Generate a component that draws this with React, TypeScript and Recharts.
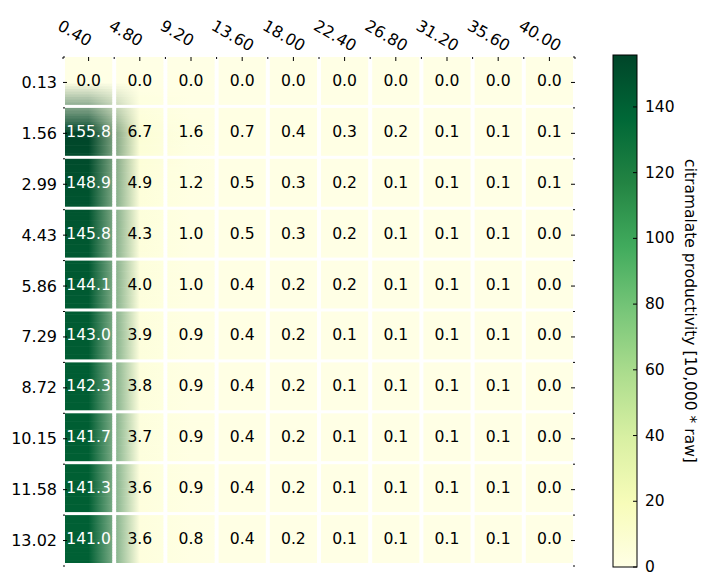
import { ScatterChart, Scatter, XAxis, YAxis, BarChart, Bar } from 'recharts'

const colLabels = ['0.40', '4.80', '9.20', '13.60', '18.00', '22.40', '26.80', '31.20', '35.60', '40.00']
const rowLabels = ['0.13', '1.56', '2.99', '4.43', '5.86', '7.29', '8.72', '10.15', '11.58', '13.02']

const row013 = [0.0, 0.0, 0.0, 0.0, 0.0, 0.0, 0.0, 0.0, 0.0, 0.0]
const row156 = [155.8, 6.7, 1.6, 0.7, 0.4, 0.3, 0.2, 0.1, 0.1, 0.1]
const row299 = [148.9, 4.9, 1.2, 0.5, 0.3, 0.2, 0.1, 0.1, 0.1, 0.1]
const row443 = [145.8, 4.3, 1.0, 0.5, 0.3, 0.2, 0.1, 0.1, 0.1, 0.0]
const row586 = [144.1, 4.0, 1.0, 0.4, 0.2, 0.2, 0.1, 0.1, 0.1, 0.0]
const row729 = [143.0, 3.9, 0.9, 0.4, 0.2, 0.1, 0.1, 0.1, 0.1, 0.0]
const row872 = [142.3, 3.8, 0.9, 0.4, 0.2, 0.1, 0.1, 0.1, 0.1, 0.0]
const row1015 = [141.7, 3.7, 0.9, 0.4, 0.2, 0.1, 0.1, 0.1, 0.1, 0.0]
const row1158 = [141.3, 3.6, 0.9, 0.4, 0.2, 0.1, 0.1, 0.1, 0.1, 0.0]
const row1302 = [141.0, 3.6, 0.8, 0.4, 0.2, 0.1, 0.1, 0.1, 0.1, 0.0]
const grid = [row013, row156, row299, row443, row586, row729, row872, row1015, row1158, row1302]

const vmax = 155.8
const cbTicks = [0, 20, 40, 60, 80, 100, 120, 140]
const cbLabel = 'citramalate productivity [10,000 * raw]'

// matplotlib YlGn
const YLGN = [
  [255, 255, 229], [247, 252, 185], [217, 240, 163], [173, 221, 142], [120, 198, 121],
  [65, 171, 93], [35, 132, 67], [0, 104, 55], [0, 69, 41],
]
const FONT = 'DejaVu Sans, sans-serif'

// plot box of the heatmap
const PL = 63, PT = 57, PW = 512, PH = 509
const CW = PW / 10, CH = PH / 10

const lerp = (a: number[], b: number[], t: number) => a.map((x, i) => x + (b[i] - x) * t)
const rgb = (c: number[]) => `rgb(${c.map(x => Math.round(x)).join(',')})`

function cmap(v: number) {
  const t = Math.max(0, Math.min(1, v / vmax)) * 8
  const i = Math.min(7, Math.floor(t))
  return lerp(YLGN[i], YLGN[i + 1], t - i)
}
const cellColors = grid.map(r => r.map(cmap))

// bilinear in rgb between cell centres (old imshow look)
function colorAt(gx: number, gy: number) {
  const x = Math.max(0, Math.min(9, gx)), y = Math.max(0, Math.min(9, gy))
  const i0 = Math.floor(x), j0 = Math.floor(y)
  const i1 = Math.min(9, i0 + 1), j1 = Math.min(9, j0 + 1)
  const tx = x - i0, ty = y - j0
  const top = lerp(cellColors[j0][i0], cellColors[j0][i1], tx)
  const bot = lerp(cellColors[j1][i0], cellColors[j1][i1], tx)
  return lerp(top, bot, ty)
}

const data = grid.flatMap((r, row) => r.map((v, col) => ({ row, col, v })))

function HeatCell(props: any) {
  const { cx, cy, payload } = props
  const { row, col, v } = payload
  const x0 = cx - CW / 2 + 2, x1 = cx + CW / 2 - 2
  const y0 = cy - CH / 2, y1 = cy + CH / 2 - 3
  const gx = (x: number) => col + (x - cx) / CW
  const gy = (y: number) => row + (y - cy) / CH
  const center = cellColors[row][col]
  let diff = 0
  for (const xx of [x0, cx, x1]) for (const yy of [y0, cy, y1]) {
    const c = colorAt(gx(xx), gy(yy))
    c.forEach((ch, k) => { diff = Math.max(diff, Math.abs(ch - center[k])) })
  }
  const txt = v.toFixed(1)
  const tc = v > vmax / 2 ? '#fff' : '#000'
  const label = (
    <text x={cx} y={(y0 + y1) / 2} textAnchor="middle" dominantBaseline="central"
      fontFamily={FONT} fontSize={15.6} fill={tc}>{txt}</text>
  )
  if (diff < 2) {
    return <g><rect x={x0} y={y0} width={x1 - x0} height={y1 - y0} fill={rgb(center)} />{label}</g>
  }
  const N = 18
  const sh = (y1 - y0) / N
  const off = (cx - x0) / (x1 - x0)
  const strips = []
  for (let k = 0; k < N; k++) {
    const sy = y0 + k * sh
    const yy = gy(sy + sh / 2)
    const id = `g-${row}-${col}-${k}`
    strips.push(
      <g key={k}>
        <defs>
          <linearGradient id={id} x1="0" y1="0" x2="1" y2="0">
            <stop offset={0} stopColor={rgb(colorAt(gx(x0), yy))} />
            <stop offset={off} stopColor={rgb(colorAt(gx(cx), yy))} />
            <stop offset={1} stopColor={rgb(colorAt(gx(x1), yy))} />
          </linearGradient>
        </defs>
        <rect x={x0} y={sy} width={x1 - x0} height={k === N - 1 ? sh : sh + 0.6} fill={`url(#${id})`} />
      </g>
    )
  }
  return <g>{strips}{label}</g>
}

function TopTick(props: any) {
  const { x, index, payload } = props
  const lx = x - 32, ly = 29
  return (
    <g>
      <line x1={x} x2={x} y1={PT} y2={PT + 4} stroke="#000" />
      <line x1={x - CW / 2} x2={x - CW / 2} y1={PT} y2={PT + 2} stroke="#000" />
      {index === 9 && <line x1={x + CW / 2} x2={x + CW / 2} y1={PT} y2={PT + 2} stroke="#000" />}
      <text x={lx} y={ly} transform={`rotate(30, ${lx}, ${ly})`} textAnchor="start"
        fontFamily={FONT} fontSize={16} fill="#000">{colLabels[payload.value]}</text>
    </g>
  )
}

function LeftTick(props: any) {
  const { y, index, payload } = props
  const R = PL + PW
  return (
    <g>
      <line x1={PL} x2={PL + 4} y1={y} y2={y} stroke="#000" />
      <line x1={R - 4} x2={R} y1={y} y2={y} stroke="#000" />
      <line x1={PL} x2={PL + 2} y1={y - CH / 2} y2={y - CH / 2} stroke="#000" />
      <line x1={R - 2} x2={R} y1={y - CH / 2} y2={y - CH / 2} stroke="#000" />
      {index === 9 && <line x1={PL} x2={PL + 2} y1={y + CH / 2} y2={y + CH / 2} stroke="#000" />}
      {index === 9 && <line x1={R - 2} x2={R} y1={y + CH / 2} y2={y + CH / 2} stroke="#000" />}
      <text x={57} y={y} textAnchor="end" dominantBaseline="central"
        fontFamily={FONT} fontSize={16} fill="#000">{rowLabels[payload.value]}</text>
    </g>
  )
}

function CbTick(props: any) {
  const { y, payload } = props
  return (
    <g>
      <line x1={33} x2={37} y1={y} y2={y} stroke="#000" />
      <text x={45} y={y} dominantBaseline="central" fontFamily={FONT} fontSize={15.5} fill="#000">{payload.value}</text>
    </g>
  )
}

function CbBar(props: any) {
  const { x, y, width, height } = props
  return (
    <g>
      <defs>
        <linearGradient id="cbGrad" x1="0" y1="1" x2="0" y2="0">
          {YLGN.map((c, i) => <stop key={i} offset={i / 8} stopColor={rgb(c)} />)}
        </linearGradient>
      </defs>
      <rect x={x} y={y} width={width} height={height} fill="url(#cbGrad)" stroke="#000" strokeWidth={1} />
    </g>
  )
}

export default function App() {
  return (
    <div style={{ position: 'absolute', left: 0, top: 0, width: 709, height: 586, background: '#fff' }}>
      <div style={{ position: 'absolute', left: 0, top: 0 }}>
        <ScatterChart width={600} height={586} margin={{ top: PT - 30, left: PL - 60, right: 600 - PL - PW, bottom: 586 - PT - PH }}>
          <XAxis type="number" dataKey="col" orientation="top" domain={[-0.5, 9.5]} ticks={[0, 1, 2, 3, 4, 5, 6, 7, 8, 9]}
            interval={0} height={30} axisLine={false} tickLine={false} tick={TopTick} allowDataOverflow />
          <YAxis type="number" dataKey="row" reversed domain={[-0.5, 9.5]} ticks={[0, 1, 2, 3, 4, 5, 6, 7, 8, 9]}
            interval={0} width={60} axisLine={false} tickLine={false} tick={LeftTick} allowDataOverflow />
          <Scatter data={data} shape={HeatCell} isAnimationActive={false} />
        </ScatterChart>
      </div>
      <div style={{ position: 'absolute', left: 600, top: 0 }}>
        <BarChart width={109} height={586} data={[{ name: 'cb', v: vmax }]} barCategoryGap={0}
          margin={{ top: 55, bottom: 19, left: 13, right: 0 }}>
          <XAxis dataKey="name" hide />
          <YAxis orientation="right" type="number" domain={[0, vmax]} ticks={cbTicks} interval={0} width={72}
            axisLine={false} tickLine={false} tick={CbTick}
            label={{
              content: () => (
                <text x={90} y={311} transform="rotate(90, 90, 311)" textAnchor="middle" dominantBaseline="central"
                  fontFamily={FONT} fontSize={15.5} fill="#000">{cbLabel}</text>
              ),
            }} />
          <Bar dataKey="v" shape={CbBar} isAnimationActive={false} />
        </BarChart>
      </div>
    </div>
  )
}
